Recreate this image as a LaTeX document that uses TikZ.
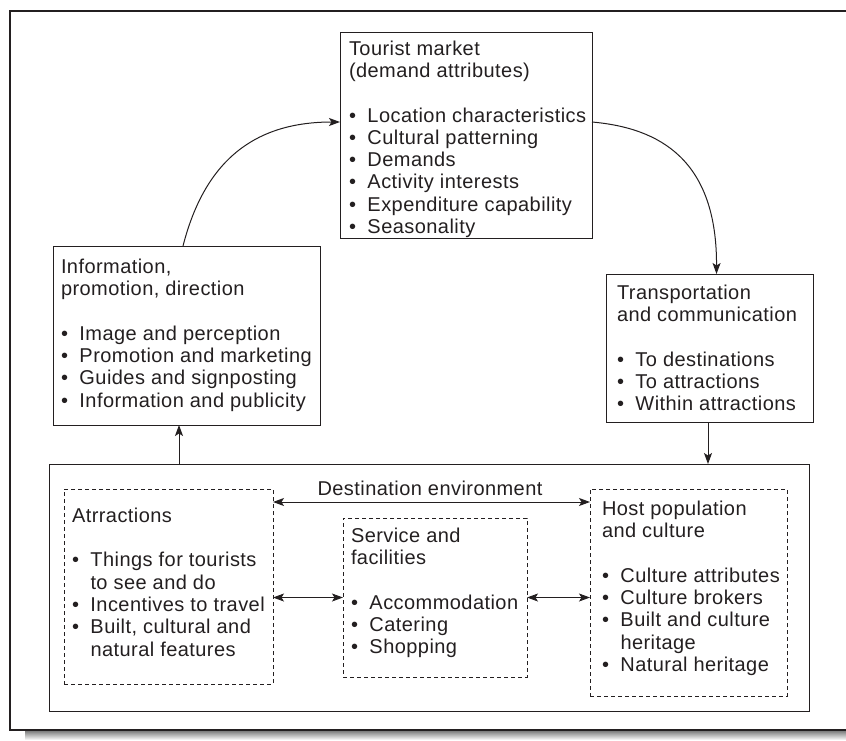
\documentclass[tikz,border=0pt]{standalone}
\usepackage{fontspec}
\setmainfont{Liberation Sans}[LetterSpace=2.2]
\usetikzlibrary{arrows.meta,calc}
\definecolor{ink}{HTML}{231F20}
\definecolor{shade}{HTML}{D2D2D4}
\newcommand\bi{\makebox[18.5pt][l]{\textbullet}}
\newcommand\ci{\hspace*{18.5pt}}
\begin{document}
\begin{tikzpicture}[x=1pt,y=-1pt,
  box/.style={draw=ink,line width=1pt,outer sep=0pt,inner sep=0pt,anchor=north west},
  dbox/.style={draw=ink,line width=0.9pt,dash pattern=on 4pt off 3pt,outer sep=0pt,inner sep=0pt,anchor=north west},
  txt/.style={anchor=north west,inner sep=0pt,outer sep=0pt,align=left,text=ink,font=\fontsize{20}{22.3}\selectfont},
  tip/.tip={Stealth[length=11pt,width=8pt,inset=2.5pt]},
  arr/.style={draw=ink,line width=1pt,-tip},
  darr/.style={draw=ink,line width=1pt,tip-tip}]
\useasboundingbox (0,0) rectangle (846,740);
% frame and shadow
\fill[shade] (25,731) rectangle (846,740);
\draw[ink,line width=1.2pt] (846,11) -- (10,11) -- (10,730) -- (846,730);
% boxes
\node[box,minimum width=252pt,minimum height=206pt] (tm) at (340,32) {};
\node[box,minimum width=267pt,minimum height=179pt] (info) at (53,246) {};
\node[box,minimum width=207pt,minimum height=148pt] (tr) at (606,274) {};
\node[box,minimum width=760pt,minimum height=247pt] (dest) at (49,464) {};
\node[dbox,minimum width=209pt,minimum height=195pt] (attr) at (64,489) {};
\node[dbox,minimum width=184pt,minimum height=159pt] (serv) at (343,518) {};
\node[dbox,minimum width=197pt,minimum height=207pt] (host) at (590,489) {};
% texts
\node[txt] (tmt) at (349,40.7) {Tourist market\\(demand attributes)\\[22.3pt]
\bi Location characteristics\\\bi Cultural patterning\\\bi Demands\\\bi Activity interests\\\bi Expenditure capability\\\bi Seasonality};
\node[txt] (infot) at (61,258.7) {Information,\\promotion, direction\\[22.3pt]
\bi Image and perception\\\bi Promotion and marketing\\\bi Guides and signposting\\\bi Information and publicity};
\node[txt] (trt) at (617,284.7) {Transportation\\and communication\\[22.3pt]
\bi To destinations\\\bi To attractions\\\bi Within attractions};
\node[txt] (attrt) at (72,507.7) {Atrractions\\[22.3pt]
\bi Things for tourists\\\ci to see and do\\\bi Incentives to travel\\\bi Built, cultural and\\\ci natural features};
\node[txt] (servt) at (351,527.7) {Service and\\facilities\\[22.3pt]
\bi Accommodation\\\bi Catering\\\bi Shopping};
\node[txt] (hostt) at (602,500.7) {Host population\\and culture\\[22.3pt]
\bi Culture attributes\\\bi Culture brokers\\\bi Built and culture\\\ci heritage\\\bi Natural heritage};
\node[txt,anchor=center] (denv) at (430,488) {Destination environment};
% connectors
\draw[arr] ([xshift=-3.5pt]info.north) .. controls (205,160) and (255,122) .. ([yshift=13pt]tm.west);
\draw[arr] ([yshift=13pt]tm.east) .. controls (660,128) and (717,160) .. ([xshift=7pt]tr.north);
\draw[arr] ([xshift=-1.5pt]tr.south) -- ([xshift=-1.5pt]tr.south |- dest.north);
\draw[arr] ([xshift=-7.5pt]info.south |- dest.north) -- ([xshift=-7.5pt]info.south);
\draw[darr] ([yshift=-13pt]attr.north east) -- ([yshift=-13pt]attr.north east -| host.west);
\draw[darr] (serv.west -| attr.east) -- (serv.west);
\draw[darr] (serv.east) -- (serv.east -| host.west);
\end{tikzpicture}
\end{document}
